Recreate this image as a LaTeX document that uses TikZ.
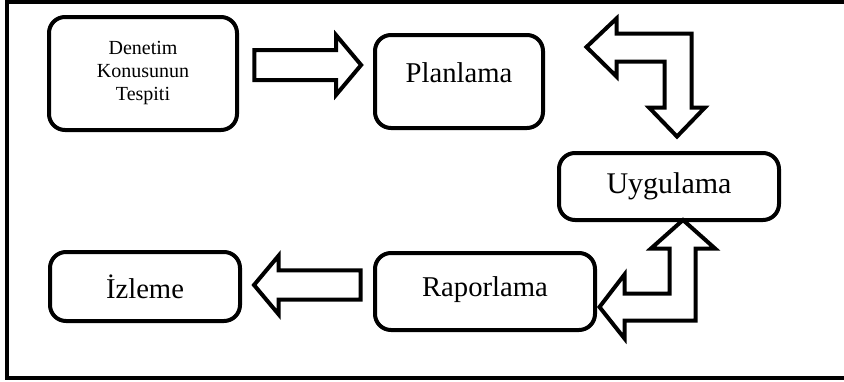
\documentclass[tikz,border=0pt]{standalone}
\usepackage{fontspec}
\setmainfont{Liberation Serif}
\usepackage{tikz}
\usetikzlibrary{arrows.meta, positioning, calc, shapes.arrows}

\begin{document}
\begin{tikzpicture}[
  x=0.75pt, y=-0.75pt,
  stage/.style={draw=black, line width=3pt, rounded corners=12pt,
                align=center, font=\fontsize{21.5}{25}\selectfont, inner sep=0pt},
  fatarrow/.style={draw=black, line width=3pt, fill=white, single arrow,
                   single arrow head extend=11pt, single arrow tip angle=100,
                   inner sep=0pt, minimum width=42pt, text width=0pt},
  bentarrow/.style={draw=black, line width=3pt, fill=white, line join=miter},
]
  \useasboundingbox (0,0) rectangle (844,382);
  \clip (0,0) rectangle (844,382);

  % Outer frame (open on the right)
  \draw[line width=3pt] (7,2) rectangle (860,378);

  % Stages
  \node[stage, minimum width=141pt, minimum height=84.75pt,
        font=\fontsize{15}{17.25}\selectfont] (tespit) at (143,73.5)
    {Denetim\\Konusunun\\Tespiti};
  \node[stage, minimum width=126pt, minimum height=69.75pt, text depth=13pt]
    (plan) at (459,81.5) {Planlama};
  \node[stage, minimum width=165pt, minimum height=50.25pt,
        font=\fontsize{22.5}{26}\selectfont] (uygula) at (669,186.5) {Uygulama};
  \node[stage, minimum width=165pt, minimum height=57.75pt, text depth=8pt]
    (rapor) at (485,291.5) {Raporlama};
  \node[stage, minimum width=142.5pt, minimum height=51.75pt]
    (izle) at (145,286.5) {İzleme};

  % Straight block arrows
  \node[fatarrow, minimum height=80pt, inner ysep=9.75pt] (a1) at (301.5,65) {};
  \node[fatarrow, minimum height=80pt, inner ysep=9.5pt, shape border rotate=180]
    (a2) at (313.5,285) {};

  % Bent arrow: Planlama <-> Uygulama
  \draw[bentarrow] (586.5,47) -- (616.5,18.5) -- (616.5,33.5) -- (691.5,33.5)
    -- (691.5,107.5) -- (705,107.5) -- (677,136.5) -- (649,107.5)
    -- (664.5,107.5) -- (664.5,61.5) -- (616.5,61.5) -- (616.5,76.5) -- cycle;

  % Bent arrow: Uygulama <-> Raporlama
  \draw[bentarrow] (599.5,307) -- (624.5,274.5) -- (624.5,293.5) -- (669.5,293.5)
    -- (669.5,248.5) -- (651,248.5) -- (683,220) -- (715,248.5)
    -- (695.5,248.5) -- (695.5,320.5) -- (624.5,320.5) -- (624.5,338.5) -- cycle;
\end{tikzpicture}
\end{document}
